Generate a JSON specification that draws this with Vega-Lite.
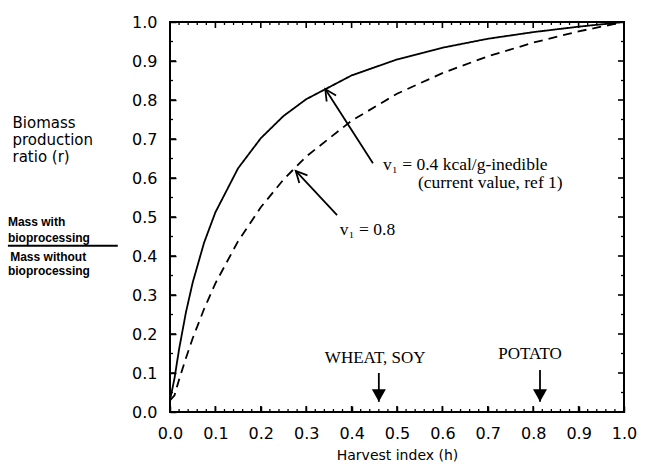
{
  "$schema": "https://vega.github.io/schema/vega-lite/v6.json",
  "width": 454,
  "height": 390,
  "autosize": "none",
  "padding": {"left": 170, "top": 22, "right": 21, "bottom": 58},
  "background": "white",
  "config": {
    "view": {"stroke": "black", "strokeWidth": 2},
    "axis": {
      "domain": false, "ticks": true, "tickColor": "black", "tickWidth": 1.5, "tickOpacity": 1,
      "grid": false, "labelFont": "DejaVu Sans", "labelFontSize": 16, "labelColor": "black",
      "titleColor": "black", "labelOverlap": false, "labelFlush": false
    }
  },
  "datasets": {
    "curves": [
      {"h": 0, "r": 0.03, "v": "0.4"}, {"h": 0.01, "r": 0.087, "v": "0.4"}, {"h": 0.02, "r": 0.161, "v": "0.4"},
      {"h": 0.035, "r": 0.255, "v": "0.4"}, {"h": 0.05, "r": 0.332, "v": "0.4"}, {"h": 0.075, "r": 0.434, "v": "0.4"},
      {"h": 0.1, "r": 0.512, "v": "0.4"}, {"h": 0.15, "r": 0.625, "v": "0.4"}, {"h": 0.2, "r": 0.702, "v": "0.4"},
      {"h": 0.25, "r": 0.759, "v": "0.4"}, {"h": 0.3, "r": 0.802, "v": "0.4"}, {"h": 0.4, "r": 0.863, "v": "0.4"},
      {"h": 0.5, "r": 0.904, "v": "0.4"}, {"h": 0.6, "r": 0.934, "v": "0.4"}, {"h": 0.7, "r": 0.957, "v": "0.4"},
      {"h": 0.8, "r": 0.974, "v": "0.4"}, {"h": 0.9, "r": 0.988, "v": "0.4"}, {"h": 1.0, "r": 1.0, "v": "0.4"},
      {"h": 0, "r": 0.03, "v": "0.8"}, {"h": 0.01, "r": 0.043, "v": "0.8"}, {"h": 0.02, "r": 0.083, "v": "0.8"},
      {"h": 0.035, "r": 0.138, "v": "0.8"}, {"h": 0.05, "r": 0.189, "v": "0.8"}, {"h": 0.075, "r": 0.264, "v": "0.8"},
      {"h": 0.1, "r": 0.33, "v": "0.8"}, {"h": 0.15, "r": 0.438, "v": "0.8"}, {"h": 0.2, "r": 0.525, "v": "0.8"},
      {"h": 0.25, "r": 0.596, "v": "0.8"}, {"h": 0.3, "r": 0.655, "v": "0.8"}, {"h": 0.4, "r": 0.747, "v": "0.8"},
      {"h": 0.5, "r": 0.816, "v": "0.8"}, {"h": 0.6, "r": 0.869, "v": "0.8"}, {"h": 0.7, "r": 0.912, "v": "0.8"},
      {"h": 0.8, "r": 0.947, "v": "0.8"}, {"h": 0.9, "r": 0.976, "v": "0.8"}, {"h": 1.0, "r": 1.0, "v": "0.8"}
    ],
    "major": [
      {"t": 0.1}, {"t": 0.2}, {"t": 0.3}, {"t": 0.4}, {"t": 0.5}, {"t": 0.6}, {"t": 0.7}, {"t": 0.8}, {"t": 0.9}
    ],
    "minorX": [
      {"t": 0.02}, {"t": 0.04}, {"t": 0.06}, {"t": 0.08}, {"t": 0.12}, {"t": 0.14}, {"t": 0.16}, {"t": 0.18},
      {"t": 0.22}, {"t": 0.24}, {"t": 0.26}, {"t": 0.28}, {"t": 0.32}, {"t": 0.34}, {"t": 0.36}, {"t": 0.38},
      {"t": 0.42}, {"t": 0.44}, {"t": 0.46}, {"t": 0.48}, {"t": 0.52}, {"t": 0.54}, {"t": 0.56}, {"t": 0.58},
      {"t": 0.62}, {"t": 0.64}, {"t": 0.66}, {"t": 0.68}, {"t": 0.72}, {"t": 0.74}, {"t": 0.76}, {"t": 0.78},
      {"t": 0.82}, {"t": 0.84}, {"t": 0.86}, {"t": 0.88}, {"t": 0.92}, {"t": 0.94}, {"t": 0.96}, {"t": 0.98}
    ],
    "minorY": [
      {"t": 0.05}, {"t": 0.15}, {"t": 0.25}, {"t": 0.35}, {"t": 0.45}, {"t": 0.55}, {"t": 0.65}, {"t": 0.75}, {"t": 0.85}, {"t": 0.95}
    ]
  },
  "layer": [
    {
      "data": {"name": "curves"},
      "mark": {"type": "line", "color": "black", "strokeWidth": 1.8, "clip": false},
      "encoding": {
        "x": {
          "field": "h", "type": "quantitative",
          "scale": {"domain": [0, 1], "nice": false, "zero": false},
          "axis": {
            "orient": "bottom", "title": "Harvest index (h)", "titleFont": "DejaVu Sans", "titleFontSize": 14,
            "titleFontWeight": "normal", "titleY": 49, "titleBaseline": "middle", "tickCount": 10,
            "format": ".1f", "offset": -6, "ticks": true, "tickSize": 6, "tickColor": "black", "tickWidth": 1.5, "labelPadding": 13
          }
        },
        "y": {
          "field": "r", "type": "quantitative",
          "scale": {"domain": [0, 1], "nice": false, "zero": false},
          "axis": {
            "orient": "left", "title": ["Biomass", "production", "ratio (r)"], "titleAngle": 0,
            "titleAlign": "left", "titleBaseline": "top", "titleX": -164, "titleY": 93, "tickCount": 10,
            "titleFont": "DejaVu Sans", "titleFontSize": 15, "titleFontWeight": "normal", "titleLineHeight": 17,
            "format": ".1f", "offset": -6, "ticks": true, "tickSize": 6, "tickColor": "black", "tickWidth": 1.5, "labelPadding": 13
          }
        },
        "strokeDash": {
          "field": "v", "type": "nominal",
          "scale": {"domain": ["0.4", "0.8"], "range": [[1, 0], [9, 6]]},
          "legend": null
        }
      }
    },
    {
      "data": {"name": "major"},
      "mark": {"type": "tick", "orient": "vertical", "size": 6, "thickness": 1.6, "color": "black", "opacity": 1, "yOffset": -3},
      "encoding": {
        "x": {"field": "t", "type": "quantitative", "axis": null},
        "y": {"datum": 0, "type": "quantitative", "axis": null}
      }
    },
    {
      "data": {"name": "major"},
      "mark": {"type": "tick", "orient": "vertical", "size": 6, "thickness": 1.6, "color": "black", "opacity": 1, "yOffset": 3},
      "encoding": {
        "x": {"field": "t", "type": "quantitative", "axis": null},
        "y": {"datum": 1, "type": "quantitative", "axis": null}
      }
    },
    {
      "data": {"name": "major"},
      "mark": {"type": "tick", "orient": "horizontal", "size": 6, "thickness": 1.6, "color": "black", "opacity": 1, "xOffset": 3},
      "encoding": {
        "y": {"field": "t", "type": "quantitative", "axis": null},
        "x": {"datum": 0, "type": "quantitative", "axis": null}
      }
    },
    {
      "data": {"name": "major"},
      "mark": {"type": "tick", "orient": "horizontal", "size": 6, "thickness": 1.6, "color": "black", "opacity": 1, "xOffset": -3},
      "encoding": {
        "y": {"field": "t", "type": "quantitative", "axis": null},
        "x": {"datum": 1, "type": "quantitative", "axis": null}
      }
    },
    {
      "data": {"name": "minorX"},
      "mark": {"type": "tick", "orient": "vertical", "size": 3, "thickness": 1.3, "color": "black", "opacity": 1, "yOffset": -1.5},
      "encoding": {
        "x": {"field": "t", "type": "quantitative", "axis": null},
        "y": {"datum": 0, "type": "quantitative", "axis": null}
      }
    },
    {
      "data": {"name": "minorX"},
      "mark": {"type": "tick", "orient": "vertical", "size": 3, "thickness": 1.3, "color": "black", "opacity": 1, "yOffset": 1.5},
      "encoding": {
        "x": {"field": "t", "type": "quantitative", "axis": null},
        "y": {"datum": 1, "type": "quantitative", "axis": null}
      }
    },
    {
      "data": {"name": "minorY"},
      "mark": {"type": "tick", "orient": "horizontal", "size": 3, "thickness": 1.3, "color": "black", "opacity": 1, "xOffset": 1.5},
      "encoding": {
        "y": {"field": "t", "type": "quantitative", "axis": null},
        "x": {"datum": 0, "type": "quantitative", "axis": null}
      }
    },
    {
      "data": {"name": "minorY"},
      "mark": {"type": "tick", "orient": "horizontal", "size": 3, "thickness": 1.3, "color": "black", "opacity": 1, "xOffset": -1.5},
      "encoding": {
        "y": {"field": "t", "type": "quantitative", "axis": null},
        "x": {"datum": 1, "type": "quantitative", "axis": null}
      }
    },
    {
      "data": {"values": [
        {"h": 0.447, "r": 0.638, "h2": 0.342, "r2": 0.828},
        {"h": 0.368, "r": 0.505, "h2": 0.277, "r2": 0.618}
      ]},
      "mark": {"type": "rule", "color": "black", "strokeWidth": 1.8},
      "encoding": {
        "x": {"field": "h", "type": "quantitative", "axis": null},
        "y": {"field": "r", "type": "quantitative", "axis": null},
        "x2": {"field": "h2"},
        "y2": {"field": "r2"}
      }
    },
    {
      "data": {"values": [{"h": 0.342, "r": 0.828}]},
      "mark": {"type": "point", "shape": "M -0.5 1 L 0 0 L 0.5 1", "size": 500, "filled": false, "stroke": "black", "strokeWidth": 1.8, "opacity": 1, "angle": 327},
      "encoding": {
        "x": {"field": "h", "type": "quantitative", "axis": null},
        "y": {"field": "r", "type": "quantitative", "axis": null}
      }
    },
    {
      "data": {"values": [{"h": 0.277, "r": 0.618}]},
      "mark": {"type": "point", "shape": "M -0.5 1 L 0 0 L 0.5 1", "size": 500, "filled": false, "stroke": "black", "strokeWidth": 1.8, "opacity": 1, "angle": 317},
      "encoding": {
        "x": {"field": "h", "type": "quantitative", "axis": null},
        "y": {"field": "r", "type": "quantitative", "axis": null}
      }
    },
    {
      "data": {"values": [
        {"h": 0.46, "top": 0.10, "tip": 0.026},
        {"h": 0.815, "top": 0.108, "tip": 0.026}
      ]},
      "mark": {"type": "rule", "color": "black", "strokeWidth": 1.8},
      "encoding": {
        "x": {"field": "h", "type": "quantitative", "axis": null},
        "y": {"field": "top", "type": "quantitative", "axis": null},
        "y2": {"field": "tip"}
      }
    },
    {
      "data": {"values": [
        {"h": 0.46, "tip": 0.026},
        {"h": 0.815, "tip": 0.026}
      ]},
      "mark": {"type": "point", "shape": "M -1 -1.8 L 1 -1.8 L 0 0 Z", "size": 196, "filled": true, "color": "black", "opacity": 1},
      "encoding": {
        "x": {"field": "h", "type": "quantitative", "axis": null},
        "y": {"field": "tip", "type": "quantitative", "axis": null}
      }
    },
    {
      "data": {"values": [
        {"h": 0.469, "r": 0.633, "label": "v₁ = 0.4 kcal/g-inedible"},
        {"h": 0.546, "r": 0.587, "label": "(current value, ref 1)"},
        {"h": 0.374, "r": 0.467, "label": "v₁ = 0.8"}
      ]},
      "mark": {"type": "text", "font": "Liberation Serif", "fontSize": 17.5, "align": "left", "baseline": "middle", "color": "black"},
      "encoding": {
        "x": {"field": "h", "type": "quantitative", "axis": null},
        "y": {"field": "r", "type": "quantitative", "axis": null},
        "text": {"field": "label"}
      }
    },
    {
      "data": {"values": [
        {"h": 0.452, "r": 0.138, "label": "WHEAT, SOY"},
        {"h": 0.793, "r": 0.15, "label": "POTATO"}
      ]},
      "mark": {"type": "text", "font": "Liberation Serif", "fontSize": 17, "align": "center", "baseline": "middle", "color": "black"},
      "encoding": {
        "x": {"field": "h", "type": "quantitative", "axis": null},
        "y": {"field": "r", "type": "quantitative", "axis": null},
        "text": {"field": "label"}
      }
    },
    {
      "data": {"values": [
        {"h": -0.357, "r": 0.487, "label": "Mass with"},
        {"h": -0.357, "r": 0.446, "label": "bioprocessing"},
        {"h": -0.352, "r": 0.397, "label": "Mass without"},
        {"h": -0.357, "r": 0.362, "label": "bioprocessing"}
      ]},
      "mark": {"type": "text", "font": "Liberation Sans", "fontSize": 12, "fontWeight": "bold", "align": "left", "baseline": "middle", "color": "black"},
      "encoding": {
        "x": {"field": "h", "type": "quantitative", "axis": null},
        "y": {"field": "r", "type": "quantitative", "axis": null},
        "text": {"field": "label"}
      }
    },
    {
      "data": {"values": [{"h": -0.357, "h2": -0.115, "r": 0.426}]},
      "mark": {"type": "rule", "color": "black", "strokeWidth": 2},
      "encoding": {
        "x": {"field": "h", "type": "quantitative", "axis": null},
        "x2": {"field": "h2"},
        "y": {"field": "r", "type": "quantitative", "axis": null}
      }
    }
  ],
  "resolve": {"axis": {"x": "independent", "y": "independent"}}
}
